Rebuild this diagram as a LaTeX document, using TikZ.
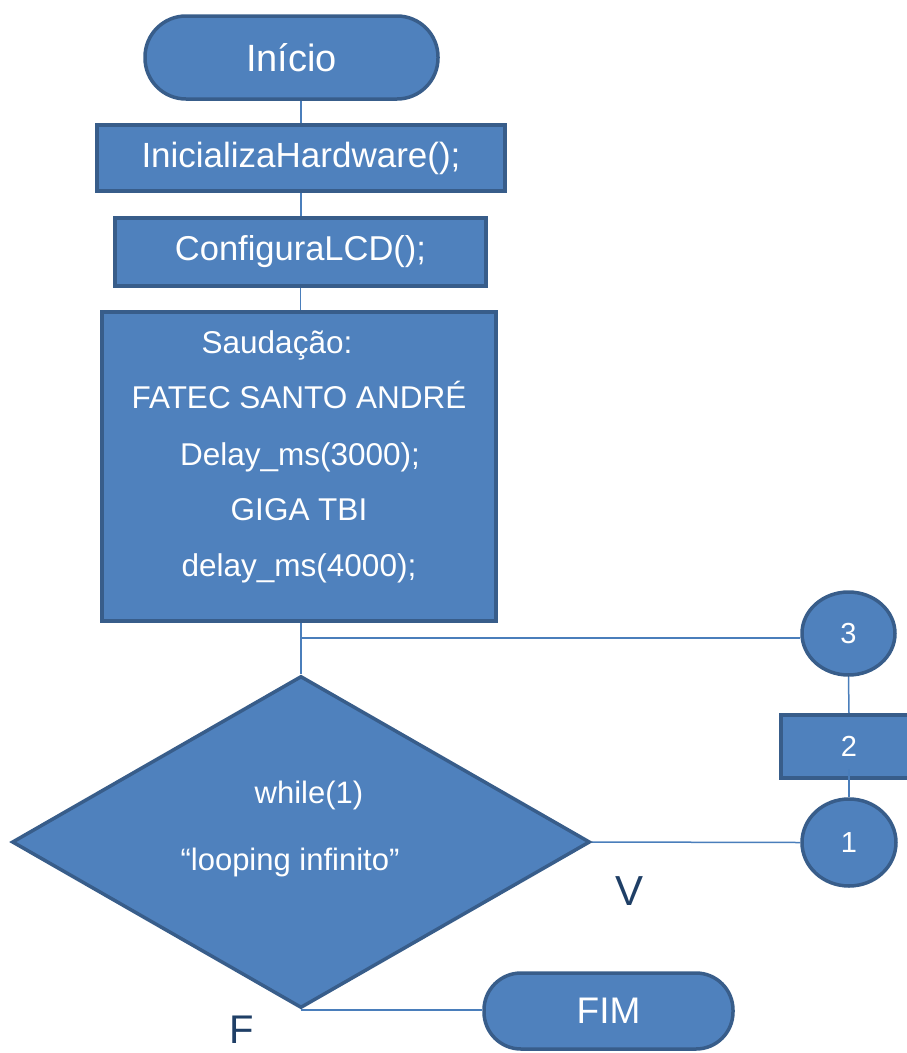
\documentclass[tikz,border=0pt]{standalone}
\usepackage{fontspec}
\setmainfont{Liberation Sans}
\usetikzlibrary{shapes.geometric,backgrounds}
\definecolor{boxfill}{HTML}{4F81BD}
\definecolor{boxline}{HTML}{385D8A}
\definecolor{conn}{HTML}{4A7EBB}
\definecolor{lbl}{HTML}{1F3F66}
\newcommand{\fsz}[1]{\fontsize{#1}{#1}\selectfont}
\begin{document}
\begin{tikzpicture}[x=1pt,y=-1pt,
  shapebase/.style={draw=boxline, fill=boxfill, line width=3.5pt, text=white, inner sep=0pt},
  terminal/.style={shapebase, rectangle, rounded corners=#1},
  procbox/.style={shapebase, rectangle},
  connector/.style={draw=conn, line width=1.5pt},
  bodytext/.style={text=white, inner sep=0pt, anchor=base, font=\fsz{31.5}},
  dectext/.style={text=white, inner sep=0pt, anchor=base, font=\fsz{31}},
  branchlbl/.style={text=lbl, inner sep=0pt, anchor=base}
]
\useasboundingbox (0,0) rectangle (907,1053);

% nodes
\node[terminal=41pt, minimum width=293pt, minimum height=83pt, font=\fsz{38}] (inicio) at (291.5,57.5) {Início};
\node[procbox, minimum width=408pt, minimum height=66pt, font=\fsz{35}] (hw) at (301,158) {InicializaHardware();};
\node[procbox, minimum width=371pt, minimum height=68pt, font=\fsz{34.5}] (lcd) at (300.5,252) {ConfiguraLCD();};
\node[procbox, minimum width=394pt, minimum height=309pt] (big) at (299,466.5) {};
\node[bodytext] (t1) at (277,353) {Saudação:};
\node[bodytext] (t2) at (299,408) {FATEC SANTO ANDRÉ};
\node[bodytext] (t3) at (300,465) {Delay\_ms(3000);};
\node[bodytext] (t4) at (299,520) {GIGA TBI};
\node[bodytext] (t5) at (299,576) {delay\_ms(4000);};

\node[shapebase, diamond, minimum width=578pt, minimum height=332pt] (dec) at (301,842) {};
\node[dectext] (d1) at (309,803) {while(1)};
\node[dectext] (d2) at (290,870) {“looping infinito”};

\node[shapebase, ellipse, minimum width=93pt, minimum height=83pt, font=\fsz{29}] (c3) at (848.5,633.5) {3};
\node[procbox, minimum width=136pt, minimum height=63pt, font=\fsz{29}] (r2) at (849,746.5) {2};
\node[shapebase, ellipse, minimum width=94pt, minimum height=87pt, font=\fsz{29}] (c1) at (849,842.5) {1};

\node[terminal=37pt, minimum width=249pt, minimum height=76pt, font=\fsz{37}] (fim) at (608.5,1011) {FIM};

\node[branchlbl, font=\fsz{42}] (vlbl) at (630,905) {V};
\node[branchlbl, font=\fsz{40}] (flbl) at (242,1043) {F};

\coordinate (j) at (301,638);

% connectors
\begin{scope}[on background layer]
\draw[connector] (hw.north) -- (hw.north |- inicio.south);
\draw[connector] (hw.south) -- (hw.south |- lcd.north);
\draw[connector] (lcd.south) -- (lcd.south |- big.north);
\draw[connector] (big.south -| j) -- (dec.north);
\draw[connector] (j) -- (j -| c3.west);
\draw[connector] (c3.south) -- (r2.north);
\draw[connector] (dec.east) -- (c1.west);
\draw[connector] (dec.south) -- (dec.south -| fim.west);
\end{scope}
\draw[connector] (c1.north) -- ([yshift=11pt]r2.south);
\end{tikzpicture}
\end{document}
